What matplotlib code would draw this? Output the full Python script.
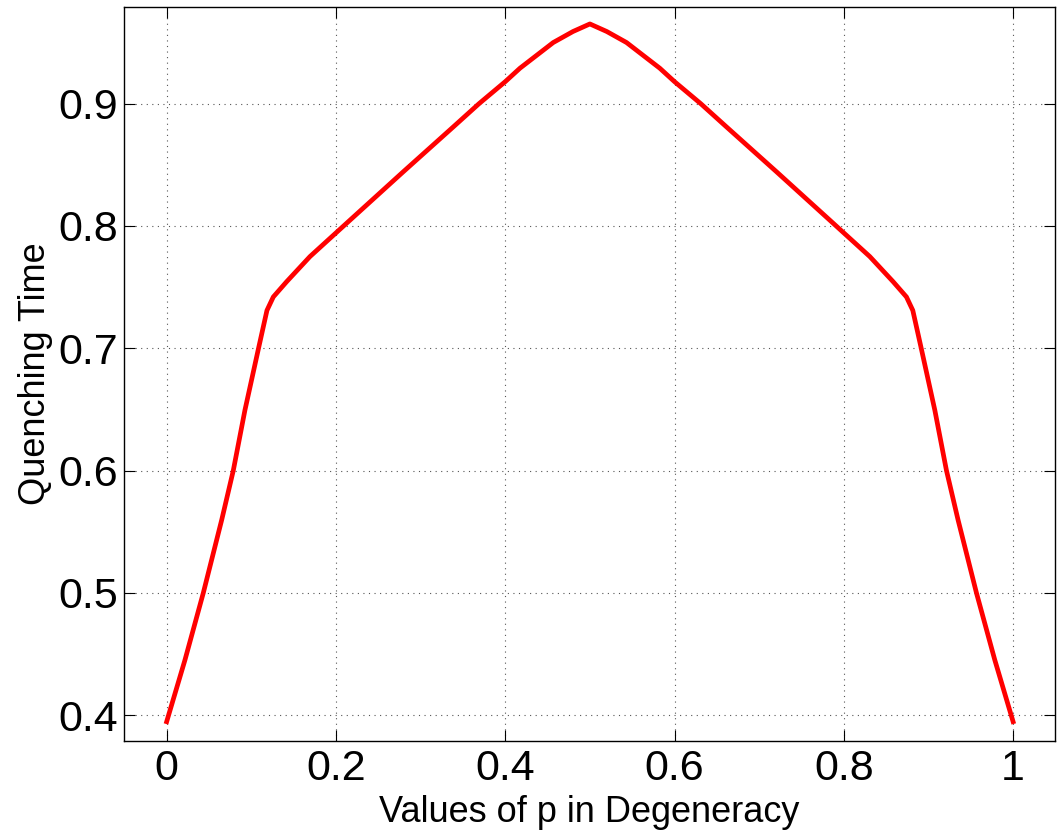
import matplotlib
matplotlib.use("Agg")
import matplotlib.pyplot as plt

# Left half; the curve is mirror-symmetric about p = 0.5
p_left = [0.0, 0.0216, 0.0433, 0.065, 0.0787, 0.0925, 0.1094, 0.1185,
          0.126, 0.1418, 0.1693, 0.209, 0.244, 0.279, 0.3386,
          0.369, 0.4, 0.4174, 0.4567, 0.48, 0.5]
q_left = [0.3947, 0.4451, 0.5, 0.5596, 0.6, 0.6495, 0.7027, 0.731,
          0.742, 0.7545, 0.775, 0.800, 0.822, 0.844, 0.881,
          0.900, 0.918, 0.929, 0.950, 0.959, 0.9652]

p_values = p_left + [round(1 - p, 4) for p in reversed(p_left[:-1])]
quench_time = q_left + list(reversed(q_left[:-1]))

x_ticks = [0, 0.2, 0.4, 0.6, 0.8, 1]
x_labels = ["0", "0.2", "0.4", "0.6", "0.8", "1"]
y_ticks = [0.4, 0.5, 0.6, 0.7, 0.8, 0.9]
y_labels = ["0.4", "0.5", "0.6", "0.7", "0.8", "0.9"]

plt.rcParams['font.family'] = ['Liberation Sans', 'DejaVu Sans']

fig = plt.figure(figsize=(10.63, 8.38), dpi=100)
ax = fig.add_axes([124 / 1063, 1 - 741 / 838, (1055 - 124) / 1063, (741 - 6.7) / 838])

ax.plot(p_values, quench_time, color='#ff0000', linewidth=3.4,
        solid_joinstyle='round')

ax.set_xlim(-0.0504, 1.0495)
ax.set_ylim(0.3789, 0.9793)
ax.set_xticks(x_ticks)
ax.set_xticklabels(x_labels)
ax.set_yticks(y_ticks)
ax.set_yticklabels(y_labels)

ax.grid(True, linestyle=(0, (1, 4)), color='#555555', linewidth=0.8)
ax.tick_params(direction='in', length=8, width=0.8, top=True, right=True,
               labelsize=31)
ax.tick_params(axis='x', pad=6)
ax.tick_params(axis='y', pad=4)
for s in ax.spines.values():
    s.set_linewidth(1.0)

ax.set_xlabel("Values of p in Degeneracy", fontsize=26, labelpad=4)
ax.set_ylabel("Quenching Time", fontsize=26, labelpad=4)

fig.savefig("out.png", dpi=100)
